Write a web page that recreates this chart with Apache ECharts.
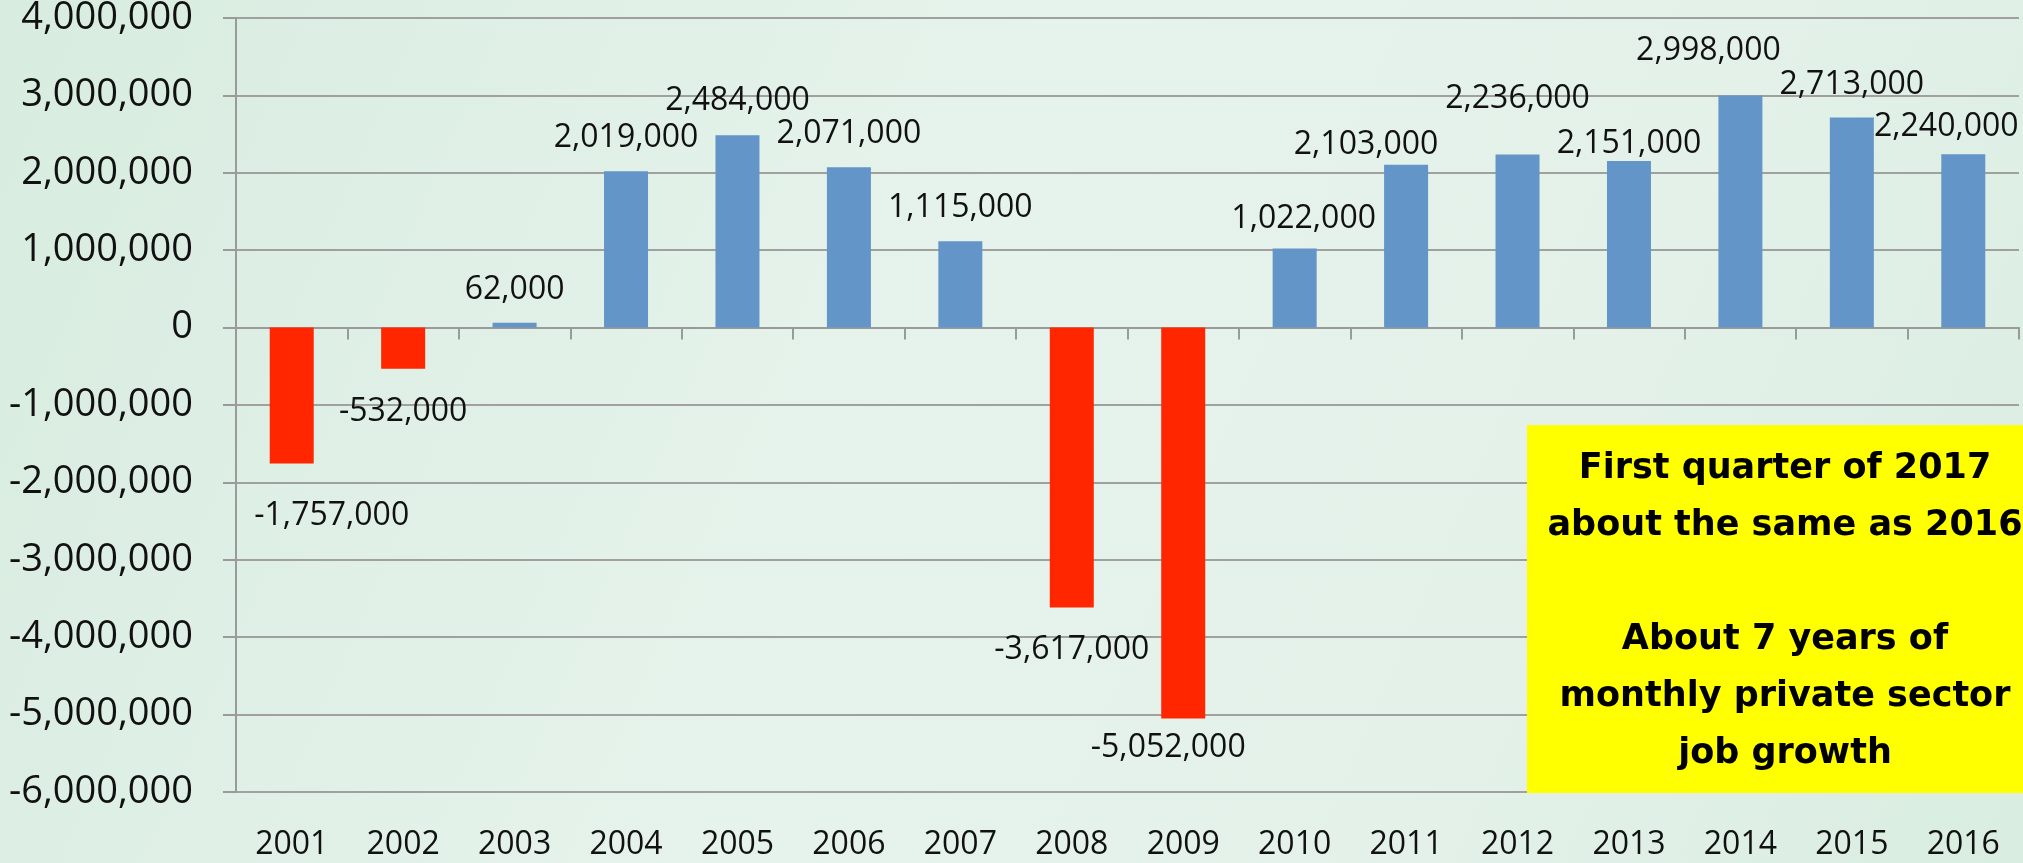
<!DOCTYPE html>
<html>
<head>
<meta charset="utf-8">
<script src="https://cdn.jsdelivr.net/npm/echarts@6/dist/echarts.min.js"></script>
<style>
html,body{margin:0;padding:0;background:#dfefe5;}
#chart{width:2023px;height:863px;}
</style>
</head>
<body>
<div id="chart"></div>
<script>
const categories = ['2001','2002','2003','2004','2005','2006','2007','2008','2009','2010','2011','2012','2013','2014','2015','2016'];
const values = [-1757000, -532000, 62000, 2019000, 2484000, 2071000, 1115000, -3617000, -5052000, 1022000, 2103000, 2236000, 2151000, 2998000, 2713000, 2240000];
const yMin = -6000000;
const yMax = 4000000;
const yStep = 1000000;
const labelOffsets = [[40,9],[0,0],[0,0],[0,0],[0,-1],[0,0],[0,0],[0,-1],[-15,-14],[9,3],[-40,13],[0,-23],[0,16],[-32,-12],[0,0],[-17,6]];
const noteLines = ['First quarter of 2017','about the same as 2016','','About 7 years of','monthly private sector','job growth'];

const fmt = v => v.toLocaleString('en-US');
const FONT = 'Open Sans';

const chart = echarts.init(document.getElementById('chart'), null, {renderer:'canvas'});

const barData = values.map((v, i) => ({
  value: v,
  itemStyle: { color: v >= 0 ? '#6395c8' : '#ff2600' },
  label: {
    position: v >= 0 ? 'top' : 'bottom',
    distance: v >= 0 ? 17 : 27,
    offset: labelOffsets[i]
  }
}));

chart.setOption({
  backgroundColor: {
    type: 'linear', x: 0, y: 0, x2: 1, y2: 1,
    colorStops: [
      {offset: 0, color: '#d8ecdf'},
      {offset: 0.45, color: '#e6f3ec'},
      {offset: 0.75, color: '#e3f1e9'},
      {offset: 1, color: '#d9ede0'}
    ]
  },
  animation: false,
  grid: { left: 236, right: 4, top: 18, bottom: 71, containLabel: false, outerBoundsMode: 'none' },
  xAxis: [
    {
      type: 'category',
      data: categories,
      position: 'bottom',
      axisLine: { onZero: true, lineStyle: { color: '#9a9a9a', width: 2 } },
      axisTick: { show: true, length: 12, inside: false, lineStyle: { color: '#9a9a9a', width: 2 } },
      axisLabel: { show: false },
      splitLine: { show: false }
    },
    {
      type: 'category',
      data: categories,
      position: 'bottom',
      axisLine: { show: false, onZero: false },
      axisTick: { show: false },
      axisLabel: { show: true, margin: 36, fontFamily: FONT, fontSize: 32, lineHeight: 34, color: '#111' },
      splitLine: { show: false }
    }
  ],
  yAxis: {
    type: 'value',
    min: yMin, max: yMax, interval: yStep,
    axisLine: { show: true, lineStyle: { color: '#9a9a9a', width: 2 } },
    axisTick: { show: true, length: 13, inside: false, lineStyle: { color: '#9a9a9a', width: 2 } },
    axisLabel: { margin: 43, fontFamily: FONT, fontSize: 38, color: '#111', formatter: v => fmt(v) },
    splitLine: { show: true, lineStyle: { color: '#a0a0a0', width: 2 } }
  },
  series: [{
    type: 'bar',
    xAxisIndex: 0,
    data: barData,
    barWidth: 44,
    label: {
      show: true,
      fontFamily: FONT,
      fontSize: 32,
      lineHeight: 32,
      color: '#111',
      formatter: p => fmt(p.value)
    }
  }],
  graphic: [
    {
      type: 'rect',
      left: 1527, top: 425,
      shape: { width: 520, height: 368 },
      style: { fill: '#ffff00' },
      z: 100
    },
    {
      type: 'text',
      x: 1785, y: 611,
      style: {
        text: noteLines.join('\n'),
        font: 'bold 35px "DejaVu Sans"',
        lineHeight: 57,
        fill: '#000',
        align: 'center',
        verticalAlign: 'middle'
      },
      z: 101
    }
  ]
});
</script>
</body>
</html>
